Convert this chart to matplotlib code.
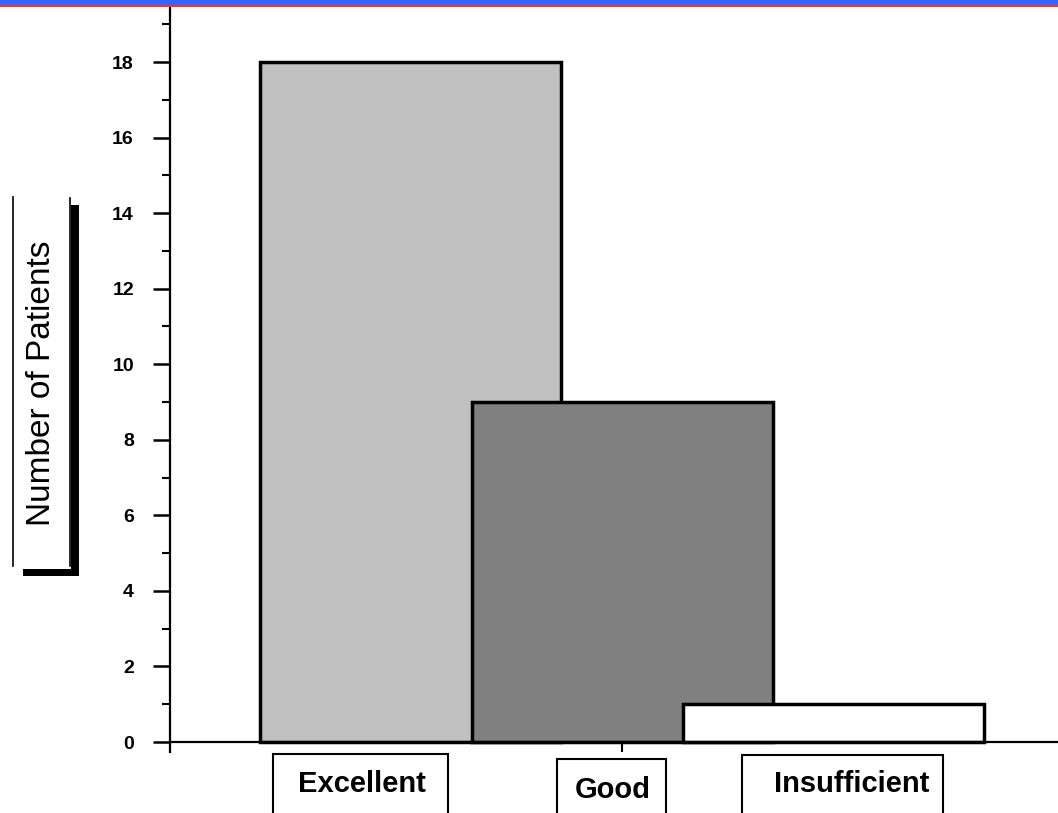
import matplotlib
matplotlib.use("Agg")
import matplotlib.pyplot as plt
from matplotlib.patches import Rectangle
from matplotlib.lines import Line2D

categories = ["Excellent", "Good", "Insufficient"]
patients = [18, 9, 1]
bar_colors = ["#c0c0c0", "#808080", "#ffffff"]
yticks_major = [0, 2, 4, 6, 8, 10, 12, 14, 16, 18]
yticks_minor = [1, 3, 5, 7, 9, 11, 13, 15, 17, 19]

W, H = 1058, 813
fig = plt.figure(figsize=(W / 100, H / 100), dpi=100)
plt.rcParams['font.family'] = ['Liberation Sans', 'DejaVu Sans']


def fx(x):
    return x / W


def fy(y):
    return 1 - y / H


# axes: left spine at x=170, top at y=8, bottom (axes edge) at y=752
ax = fig.add_axes([fx(170), fy(752), fx(1058) - fx(170), fy(8) - fy(752)])
unit = (742 - 62) / 18.0
ax.set_ylim(-(752 - 742) / unit, (742 - 8) / unit)
xs = list(range(len(categories)))
spacing = 211.5
ax.set_xlim(1 + (170 - 622) / spacing, 1 + (1058 - 622) / spacing)

ax.bar(xs, patients, width=301 / spacing, color=bar_colors, edgecolor="black",
       linewidth=2.5, zorder=2)

for s in ["top", "right"]:
    ax.spines[s].set_visible(False)
ax.spines["bottom"].set_position(("data", 0))
ax.spines["left"].set_linewidth(1.6)
ax.spines["bottom"].set_linewidth(1.6)
ax.spines["bottom"].set_zorder(3)

ax.set_yticks(yticks_major)
ax.set_yticks(yticks_minor, minor=True)
ax.set_yticklabels([str(v) for v in yticks_major], fontweight="bold", fontsize=14)
ax.tick_params(axis="y", which="major", length=12, width=1.8, pad=14, direction="out")
ax.tick_params(axis="y", which="minor", length=6, width=1.5, direction="out")
ax.set_xticks([1])
ax.set_xticklabels([""])
ax.tick_params(axis="x", which="major", length=7, width=1.5, direction="out")

# header band
fig.add_artist(Rectangle((0, fy(5)), 1, fy(0) - fy(5), transform=fig.transFigure,
                         facecolor="#3366ff", edgecolor="none"))
fig.add_artist(Rectangle((0, fy(7)), 1, fy(5) - fy(7), transform=fig.transFigure,
                         facecolor="#ff3322", edgecolor="none"))

# y-label box
fig.text(fx(42), fy(383), "Number of Patients", rotation=90, ha="center", va="center",
         fontsize=24)
fig.add_artist(Line2D([fx(13), fx(13)], [fy(197), fy(566)], transform=fig.transFigure,
                      color="black", lw=1.2))
fig.add_artist(Line2D([fx(70), fx(70)], [fy(198), fy(566)], transform=fig.transFigure,
                      color="black", lw=1.2))
fig.add_artist(Rectangle((fx(71), fy(576)), fx(79) - fx(71), fy(205) - fy(576),
                         transform=fig.transFigure, facecolor="black", edgecolor="none"))
fig.add_artist(Rectangle((fx(23), fy(576)), fx(79) - fx(23), fy(569) - fy(576),
                         transform=fig.transFigure, facecolor="black", edgecolor="none"))

# category label boxes
boxes = [(273, 448, 754, 362, 784), (557, 666, 759, 613, 790), (742, 943, 755, 852, 784)]
for cat, (x0, x1, y0, tx, ty) in zip(categories, boxes):
    fig.add_artist(Rectangle((fx(x0), fy(820)), fx(x1) - fx(x0), fy(y0) - fy(820),
                             transform=fig.transFigure, facecolor="white",
                             edgecolor="black", lw=1.5))
    fig.text(fx(tx), fy(ty), cat, ha="center", va="center", fontsize=21,
             fontweight="bold")

fig.savefig("out.png", dpi=100)
